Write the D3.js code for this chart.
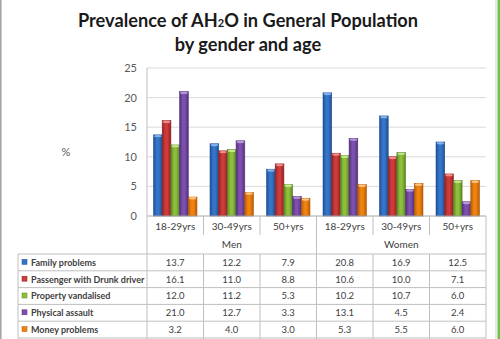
<!DOCTYPE html>
<html>
<head>
<meta charset="utf-8">
<script src="https://cdn.jsdelivr.net/npm/d3@7"></script>
<style>
  body { margin: 0; background: #fff; }
  text { font-family: Lato, "Open Sans", sans-serif; }
</style>
</head>
<body>
<svg id="chart" width="500" height="339"></svg>
<script>
// chart data
var groups = ["Men", "Women"];
var ages = ["18-29yrs", "30-49yrs", "50+yrs"];
var seriesNames = ["Family problems", "Passenger with Drunk driver", "Property vandalised", "Physical assault", "Money problems"];
var family = [13.7, 12.2, 7.9, 20.8, 16.9, 12.5];
var passenger = [16.1, 11.0, 8.8, 10.6, 10.0, 7.1];
var property = [12.0, 11.2, 5.3, 10.2, 10.7, 6.0];
var physical = [21.0, 12.7, 3.3, 13.1, 4.5, 2.4];
var money = [3.2, 4.0, 3.0, 5.3, 5.5, 6.0];
var yTicks = [0, 5, 10, 15, 20, 25];

var seriesValues = [family, passenger, property, physical, money];
var colors = ["#3474c9", "#cf3b3b", "#8cbf3c", "#7d4fae", "#f0820f"];
var darks = ["#1f4f90", "#8e2222", "#5c8522", "#533178", "#b45c05"];
var lights = ["#7fb0ee", "#f08a8a", "#c4e58a", "#b596da", "#ffc27f"];

var cats = [];
groups.forEach(function (g) { ages.forEach(function (a) { cats.push(g + "|" + a); }); });

var svg = d3.select("#chart");
var plotLeft = 147, plotRight = 486, plotTop = 68, zeroY = 216;
var labelRowBottom = 235, tableTop = 254, rowH = 16.8, tableLeft = 18;

// borders
svg.append("line").attr("x1", 0.8).attr("x2", 0.8).attr("y1", 0).attr("y2", 339)
  .attr("stroke", "#a6a6a6").attr("stroke-width", 1.6);
svg.append("line").attr("x1", 496).attr("x2", 496).attr("y1", 0).attr("y2", 339)
  .attr("stroke", "#d0d0d0").attr("stroke-width", 1);
svg.append("rect").attr("x", 497.5).attr("y", 0).attr("width", 2.5).attr("height", 339)
  .attr("fill", "#6cc14a");

// title
var title = svg.append("text").attr("text-anchor", "middle").attr("font-weight", "bold")
  .attr("font-size", 18.2).attr("fill", "#1a1a1a");
var t1 = title.append("tspan").attr("x", 248).attr("y", 27);
t1.append("tspan").text("Prevalence of AH");
t1.append("tspan").attr("font-size", 11).text("2");
t1.append("tspan").text("O in General Population");
title.append("tspan").attr("x", 248).attr("y", 50.5).text("by gender and age");

var x = d3.scaleBand().domain(cats).range([plotLeft, plotRight]);
var xs = d3.scaleBand().domain(d3.range(seriesNames.length)).range([0, x.bandwidth()]).paddingOuter(0.75);
var y = d3.scaleLinear().domain([0, 25]).range([zeroY, plotTop]);

// gridlines
svg.append("g").selectAll("line").data(yTicks.slice(1)).enter().append("line")
  .attr("x1", plotLeft).attr("x2", plotRight)
  .attr("y1", function (d) { return y(d); }).attr("y2", function (d) { return y(d); })
  .attr("stroke", "#d9d9d9");

// y axis labels
var yAxis = svg.append("g").attr("transform", "translate(" + plotLeft + ",0)")
  .call(d3.axisLeft(y).tickValues(yTicks).tickSize(0).tickPadding(10));
yAxis.select(".domain").remove();
yAxis.selectAll("text").attr("font-size", 11).attr("fill", "#595959")
  .style("font-family", "Lato, sans-serif");

svg.append("text").attr("x", 66).attr("y", 156).attr("text-anchor", "middle")
  .attr("font-size", 11).attr("fill", "#595959").text("%");

// gradients for bars
var defs = svg.append("defs");
colors.forEach(function (c, i) {
  var g = defs.append("linearGradient").attr("id", "grad" + i)
    .attr("x1", "0%").attr("x2", "100%").attr("y1", "0%").attr("y2", "0%");
  g.append("stop").attr("offset", "0%").attr("stop-color", darks[i]);
  g.append("stop").attr("offset", "35%").attr("stop-color", c);
  g.append("stop").attr("offset", "60%").attr("stop-color", c);
  g.append("stop").attr("offset", "100%").attr("stop-color", darks[i]);
});

// bars
seriesValues.forEach(function (vals, si) {
  var gs = svg.append("g");
  gs.selectAll("rect").data(vals).enter().append("rect")
    .attr("x", function (d, i) { return x(cats[i]) + xs(si); })
    .attr("y", function (d) { return y(d); })
    .attr("width", xs.bandwidth())
    .attr("height", function (d) { return zeroY - y(d); })
    .attr("fill", "url(#grad" + si + ")")
    .attr("stroke", darks[si]).attr("stroke-width", 0.6);
  gs.selectAll("ellipse").data(vals).enter().append("ellipse")
    .attr("cx", function (d, i) { return x(cats[i]) + xs(si) + xs.bandwidth() / 2; })
    .attr("cy", function (d) { return y(d) + 1.2; })
    .attr("rx", xs.bandwidth() / 2 - 0.6).attr("ry", 1.2)
    .attr("fill", lights[si]);
});

// axis line and category lines
var lineCol = "#bfbfbf";
svg.append("line").attr("x1", plotLeft).attr("x2", plotRight).attr("y1", zeroY).attr("y2", zeroY)
  .attr("stroke", "#a6a6a6");
svg.append("line").attr("x1", plotLeft).attr("x2", plotLeft).attr("y1", plotTop).attr("y2", 339)
  .attr("stroke", lineCol);
cats.forEach(function (c, i) {
  var xe = x(c) + x.bandwidth();
  var isGroupEdge = (i % ages.length) === ages.length - 1;
  svg.append("line").attr("x1", xe).attr("x2", xe)
    .attr("y1", zeroY).attr("y2", isGroupEdge ? 339 : labelRowBottom).attr("stroke", lineCol);
  if (!isGroupEdge) {
    svg.append("line").attr("x1", xe).attr("x2", xe)
      .attr("y1", tableTop).attr("y2", 339).attr("stroke", lineCol);
  }
});

// category labels
svg.append("g").selectAll("text").data(cats).enter().append("text")
  .attr("x", function (d) { return x(d) + x.bandwidth() / 2; })
  .attr("y", 230).attr("text-anchor", "middle").attr("font-size", 10).attr("fill", "#404040")
  .text(function (d) { return d.split("|")[1]; });

groups.forEach(function (g, gi) {
  var x0 = x(cats[gi * ages.length]), x1 = x(cats[gi * ages.length + ages.length - 1]) + x.bandwidth();
  svg.append("text").attr("x", (x0 + x1) / 2).attr("y", 248).attr("text-anchor", "middle")
    .attr("font-size", 10).attr("fill", "#404040").text(g);
});

// data table
for (var r = 0; r <= seriesNames.length; r++) {
  svg.append("line").attr("x1", tableLeft).attr("x2", plotRight)
    .attr("y1", tableTop + r * rowH).attr("y2", tableTop + r * rowH).attr("stroke", lineCol);
}
svg.append("line").attr("x1", tableLeft).attr("x2", tableLeft)
  .attr("y1", tableTop).attr("y2", 339).attr("stroke", lineCol);

seriesNames.forEach(function (name, si) {
  var cy = tableTop + si * rowH + rowH / 2;
  svg.append("rect").attr("x", 22).attr("y", cy - 3).attr("width", 5).attr("height", 5)
    .attr("fill", colors[si]).attr("stroke", darks[si]).attr("stroke-width", 0.5);
  svg.append("text").attr("x", 31).attr("y", cy + 3.3).attr("font-size", 9)
    .attr("font-weight", "bold").attr("fill", "#404040").text(name);
  svg.append("g").selectAll("text").data(seriesValues[si]).enter().append("text")
    .attr("x", function (d, i) { return x(cats[i]) + x.bandwidth() / 2; })
    .attr("y", cy + 3.3).attr("text-anchor", "middle").attr("font-size", 9.5)
    .attr("fill", "#404040").text(function (d) { return d.toFixed(1); });
});
</script>
</body>
</html>
